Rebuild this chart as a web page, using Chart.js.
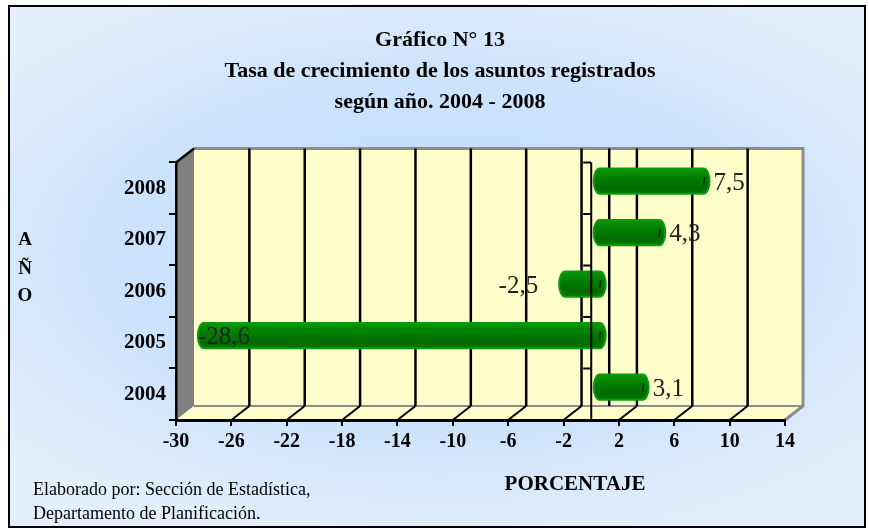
<!DOCTYPE html>
<html lang="es">
<head>
  <meta charset="UTF-8">
  <title>Gráfico N° 13</title>
  <script src="https://cdn.jsdelivr.net/npm/chart.js"></script>
  <style>
    html, body { margin: 0; padding: 0; background: #fff; }
    #wrap { width: 869px; height: 532px; }
  </style>
</head>
<body>
  <div id="wrap"><canvas id="growthChart" width="869" height="532"></canvas></div>
  <script>
    const years = ['2004', '2005', '2006', '2007', '2008'];
    const growthRate = [3.1, -28.6, -2.5, 4.3, 7.5];
    const xTicks = [-30, -26, -22, -18, -14, -10, -6, -2, 2, 6, 10, 14];
    const titleLines = ['Gráfico N° 13', 'Tasa de crecimiento de los asuntos registrados', 'según año. 2004 - 2008'];
    const yAxisLetters = ['A', 'Ñ', 'O'];
    const xAxisName = 'PORCENTAJE';
    const sourceLines = ['Elaborado por: Sección de Estadística,', 'Departamento de Planificación.'];

    const serif = "'Liberation Serif', 'Times New Roman', serif";
    const DX = 18, DY = -14;          // depth of the 3d box
    const SHIFT_X = 8.5, SHIFT_Y = -7; // bars sit halfway into the box

    const box3d = {
      id: 'box3d',
      beforeDraw(chart) {
        const ctx = chart.ctx;
        const { left, right, top, bottom } = chart.chartArea;
        const xs = chart.scales.x;
        ctx.save();
        ctx.fillStyle = '#fff';
        ctx.fillRect(0, 0, chart.width, chart.height);

        // light blue frame with a bluer middle
        ctx.save();
        ctx.beginPath();
        ctx.rect(9, 6, 856, 521);
        ctx.clip();
        ctx.translate(440, 255);
        ctx.scale(1.9, 1);
        const g = ctx.createRadialGradient(0, 0, 20, 0, 0, 300);
        g.addColorStop(0, '#BFDCFD');
        g.addColorStop(0.55, '#CCE3FC');
        g.addColorStop(1, '#E3EFFC');
        ctx.fillStyle = g;
        ctx.fillRect(-300, -300, 600, 600);
        ctx.restore();
        ctx.strokeStyle = '#000';
        ctx.lineWidth = 2;
        ctx.strokeRect(9, 6, 856, 521);

        // side wall
        ctx.fillStyle = '#808080';
        ctx.beginPath();
        ctx.moveTo(left, top);
        ctx.lineTo(left + DX, top + DY);
        ctx.lineTo(left + DX, bottom + DY);
        ctx.lineTo(left, bottom);
        ctx.closePath();
        ctx.fill();

        // back wall and floor
        ctx.fillStyle = '#FFFFCC';
        ctx.fillRect(left + DX, top + DY, right - left, bottom - top);
        ctx.beginPath();
        ctx.moveTo(left, bottom);
        ctx.lineTo(left + DX, bottom + DY);
        ctx.lineTo(right + DX, bottom + DY);
        ctx.lineTo(right, bottom);
        ctx.closePath();
        ctx.fill();

        ctx.strokeStyle = '#8C8C8C';
        ctx.lineWidth = 2;
        ctx.beginPath();
        ctx.moveTo(left + DX, bottom + DY);
        ctx.lineTo(right + DX, bottom + DY);
        ctx.stroke();
        ctx.lineWidth = 3;
        ctx.beginPath();
        ctx.moveTo(left + DX, top + DY);
        ctx.lineTo(right + DX, top + DY);
        ctx.lineTo(right + DX, bottom + DY);
        ctx.lineTo(right, bottom);
        ctx.stroke();

        // grid lines on the back wall and floor
        ctx.strokeStyle = '#000';
        const inner = xTicks.slice(1, -1);
        ctx.lineWidth = 2.5;
        inner.concat([0]).forEach(v => {
          const x = xs.getPixelForValue(v) + DX;
          ctx.beginPath();
          ctx.moveTo(x, top + DY);
          ctx.lineTo(x, bottom + DY);
          ctx.stroke();
        });
        ctx.lineWidth = 2;
        inner.forEach(v => {
          const x = xs.getPixelForValue(v);
          ctx.beginPath();
          ctx.moveTo(x, bottom);
          ctx.lineTo(x + DX, bottom + DY);
          ctx.stroke();
        });
        ctx.lineWidth = 2.5;
        ctx.beginPath();
        ctx.moveTo(left, top);
        ctx.lineTo(left + DX, top + DY);
        ctx.stroke();
        ctx.restore();
      },
      beforeDatasetsDraw(chart) {
        chart.ctx.save();
        chart.ctx.translate(SHIFT_X, SHIFT_Y);
      },
      afterDatasetsDraw(chart) {
        const ctx = chart.ctx;
        const meta = chart.getDatasetMeta(0);
        meta.data.forEach((bar, i) => {
          const { x, y, base, height } = bar.getProps(['x', 'y', 'base', 'height'], true);
          const l = Math.min(x, base), r = Math.max(x, base);
          const t = y - height / 2, b = y + height / 2, rx = 6;
          const grad = ctx.createLinearGradient(0, t, 0, b);
          grad.addColorStop(0, '#0C960C');
          grad.addColorStop(0.35, '#008000');
          grad.addColorStop(0.75, '#006A00');
          grad.addColorStop(1, '#007A00');
          ctx.beginPath();
          ctx.moveTo(l, t);
          ctx.lineTo(r, t);
          ctx.ellipse(r, y, rx, height / 2, 0, -Math.PI / 2, Math.PI / 2);
          ctx.lineTo(l, b);
          ctx.ellipse(l, y, rx, height / 2, 0, Math.PI / 2, Math.PI * 1.5);
          ctx.closePath();
          ctx.fillStyle = grad;
          ctx.fill();
          ctx.lineWidth = 2;
          ctx.strokeStyle = '#0A9A0A';
          ctx.stroke();
          // little mark on the end face
          ctx.strokeStyle = '#002800';
          ctx.lineWidth = 1.5;
          ctx.beginPath();
          ctx.moveTo(r + 1, y - 4);
          ctx.lineTo(r, y + 4);
          ctx.stroke();

          // value label
          const v = growthRate[i];
          ctx.font = '25px ' + serif;
          ctx.fillStyle = '#222';
          ctx.textBaseline = 'middle';
          const txt = String(v).replace('.', ',');
          if (v >= 0) {
            ctx.textAlign = 'left';
            ctx.fillText(txt, r + rx + 4, y + 2);
          } else {
            const w = ctx.measureText(txt).width;
            if (l - rx - 20 - w < chart.chartArea.left) {
              ctx.textAlign = 'left';
              ctx.fillText(txt, l - rx, y + 2);
            } else {
              ctx.textAlign = 'right';
              ctx.fillText(txt, l - rx - 21, y + 2);
            }
          }
        });
        ctx.restore();

        // zero axis in front
        const { top, bottom } = chart.chartArea;
        const x0 = chart.scales.x.getPixelForValue(0);
        ctx.save();
        ctx.strokeStyle = '#000';
        ctx.lineWidth = 2;
        ctx.beginPath();
        ctx.moveTo(x0, top);
        ctx.lineTo(x0, bottom);
        for (let k = 0; k < years.length; k++) {
          const yb = top + k * (bottom - top) / years.length;
          ctx.moveTo(x0 - 8, yb);
          ctx.lineTo(x0, yb);
        }
        ctx.stroke();
        ctx.restore();
      },
      afterDraw(chart) {
        const ctx = chart.ctx;
        ctx.save();
        ctx.fillStyle = '#000';
        ctx.textBaseline = 'alphabetic';
        ctx.textAlign = 'center';
        ctx.font = 'bold 19px ' + serif;
        [245, 274, 301].forEach((yy, k) => ctx.fillText(yAxisLetters[k], 25, yy));
        ctx.font = 'bold 21px ' + serif;
        ctx.fillText(xAxisName, 575, 490);
        ctx.textAlign = 'left';
        ctx.font = '18px ' + serif;
        ctx.fillText(sourceLines[0], 33, 495);
        ctx.fillText(sourceLines[1], 33, 519);
        ctx.restore();
      }
    };

    const ctx = document.getElementById('growthChart').getContext('2d');
    new Chart(ctx, {
      type: 'bar',
      data: {
        labels: years,
        datasets: [{
          data: growthRate,
          backgroundColor: '#007A00',
          borderWidth: 0,
          barPercentage: 0.98,
          categoryPercentage: 0.5
        }]
      },
      options: {
        indexAxis: 'y',
        responsive: false,
        animation: false,
        layout: { padding: { left: 95, right: 84, top: 0, bottom: 0 } },
        plugins: {
          legend: { display: false },
          tooltip: { enabled: false },
          title: {
            display: true,
            text: titleLines,
            color: '#000',
            font: { family: serif, size: 22, weight: 'bold', lineHeight: 1.4 },
            padding: { top: 25, bottom: 45 }
          }
        },
        scales: {
          x: {
            type: 'linear',
            min: -30,
            max: 14,
            afterBuildTicks: s => { s.ticks = xTicks.map(v => ({ value: v })); },
            afterFit: s => { s.height = 112; },
            grid: { drawOnChartArea: false, tickLength: 6, lineWidth: 2, color: '#000' },
            border: { display: true, color: '#000', width: 3 },
            ticks: { color: '#000', padding: 4, maxRotation: 0, autoSkip: false, font: { family: serif, size: 20, weight: 'bold' } }
          },
          y: {
            reverse: true,
            afterFit: s => { s.width = 81; },
            grid: { drawOnChartArea: false, tickLength: 7, lineWidth: 2, color: '#000' },
            border: { display: true, color: '#000', width: 2.5 },
            ticks: { color: '#000', padding: 3, font: { family: serif, size: 21, weight: 'bold' } }
          }
        }
      },
      plugins: [box3d]
    });
  </script>
</body>
</html>
